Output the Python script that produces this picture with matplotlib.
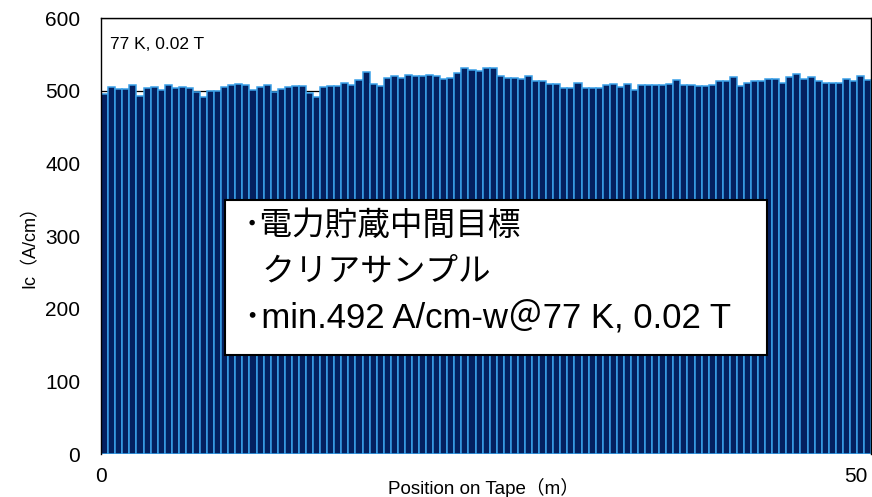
#!/usr/bin/env python3
import numpy as np
import matplotlib
matplotlib.use('Agg')
import matplotlib.pyplot as plt
from matplotlib.patches import Rectangle

# Ic measured along the tape (A/cm), one value per sampling point
ic_values = [495, 505, 502, 503, 508, 493, 504, 505, 501, 508,
             504, 505, 504, 499, 492, 500, 500, 505, 508, 510,
             508, 501, 505, 508, 499, 503, 505, 506, 506, 497,
             492, 505, 506, 506, 511, 508, 515, 526, 509, 507,
             518, 521, 518, 522, 521, 520, 522, 520, 516, 518,
             524, 531, 528, 527, 531, 531, 520, 517, 517, 516,
             521, 514, 514, 509, 509, 504, 504, 511, 504, 504,
             504, 508, 510, 505, 509, 501, 508, 508, 508, 508,
             510, 515, 508, 508, 506, 506, 508, 513, 513, 519,
             506, 511, 513, 513, 516, 516, 511, 519, 523, 516,
             519, 513, 511, 511, 511, 516, 513, 521, 515]
step_m = 0.468  # sampling pitch along the tape (m)
positions = np.arange(len(ic_values)) * step_m

y_ticks = [0, 100, 200, 300, 400, 500, 600]
x_ticks = [0, 50]

condition_label = '77 K, 0.02 T'
box_lines = ['･電力貯蔵中間目標',
             '  クリアサンプル',
             '･min.492 A/cm-w＠77 K, 0.02 T']
box_sizes = [23.5, 23.5, 25]

fonts = ['Liberation Sans', 'Noto Sans CJK JP', 'DejaVu Sans']
plt.rcParams['font.family'] = fonts

fig = plt.figure(figsize=(8.72, 4.97), dpi=100)
ax = fig.add_axes([0.116, 0.0865, 0.883, 0.877])

ax.bar(positions, ic_values, width=step_m, align='edge',
       color='#04205f', edgecolor='#3aa0e8', linewidth=1.1, zorder=2)

ax.set_xlim(0, len(ic_values) * step_m)
ax.set_ylim(0, 600)
ax.set_yticks(y_ticks)
ax.set_xticks(x_ticks)
ax.tick_params(length=0, labelsize=15)
ax.tick_params(axis='y', pad=15)
ax.tick_params(axis='x', pad=9)
ax.yaxis.grid(True, color='black', linewidth=0.9)
ax.set_axisbelow(True)
ax.spines['bottom'].set_visible(False)
for side in ['left', 'top', 'right']:
    ax.spines[side].set_linewidth(1.0)

ax.text(0.012, 0.94, condition_label, transform=ax.transAxes,
        fontsize=12.5, ha='left', va='center')

# annotation box
ax.add_patch(Rectangle((0.161, 0.227), 0.704, 0.356, transform=ax.transAxes,
                       facecolor='white', edgecolor='black', linewidth=1.5,
                       zorder=5))
for line, yy, fs in zip(box_lines, [0.522, 0.418, 0.313], box_sizes):
    ax.text(0.185, yy, line, transform=ax.transAxes, fontsize=fs,
            ha='left', va='center', zorder=6)

fig.text(30 / 872, 1 - 243 / 497, 'Ic（A/cm）', rotation=90,
         ha='center', va='center', fontsize=13)
fig.text(483 / 872, 1 - 488 / 497, 'Position on Tape（m）',
         ha='center', va='center', fontsize=13.5)

fig.savefig('out.png', dpi=100)
